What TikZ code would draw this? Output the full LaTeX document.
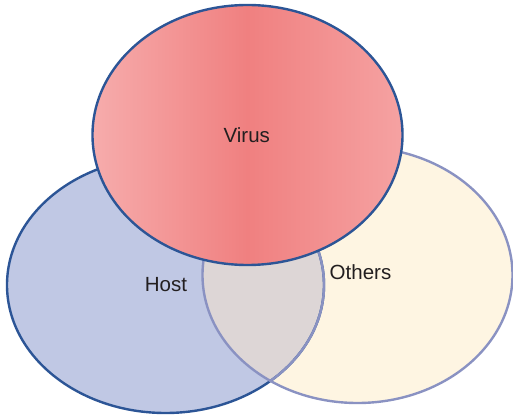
\documentclass[tikz,border=0pt]{standalone}
\usepackage{fontspec}
\setmainfont{Liberation Sans}
\definecolor{hostfill}{RGB}{192,200,228}
\definecolor{hostline}{RGB}{44,85,150}
\definecolor{othfill}{RGB}{254,245,226}
\definecolor{othline}{RGB}{138,146,194}
\definecolor{ovfill}{RGB}{221,214,214}
\definecolor{virL}{RGB}{246,172,172}
\definecolor{virM}{RGB}{240,128,128}
\definecolor{virR}{RGB}{245,162,162}
\definecolor{txt}{RGB}{35,31,32}
\begin{document}
\begin{tikzpicture}[x=1pt,y=-1pt,
  lbl/.style={anchor=base,text=txt,font=\fontsize{20.5}{24}\selectfont,inner sep=0pt},
  hostedge/.style={draw=hostline,line width=2.4pt},
  othedge/.style={draw=othline,line width=2.4pt}]
\useasboundingbox (0,0) rectangle (513,419);
\def\hostE{(165.5,285) ellipse [x radius=158.5,y radius=128]}
\def\othE{(357.5,275) ellipse [x radius=155,y radius=128]}
\def\virE{(247.5,135) ellipse [x radius=155,y radius=130]}
% Host and Others fills
\fill[hostfill] \hostE;
\fill[othfill] \othE;
\begin{scope}
  \clip \hostE;
  \fill[ovfill] \othE;
\end{scope}
% outlines
\path[hostedge] \hostE;
\begin{scope}
  \clip \othE;
  \path[othedge] \hostE;
\end{scope}
\path[othedge] \othE;
% Virus
\shade[left color=virL,right color=virR,middle color=virM] \virE;
\path[hostedge] \virE;
% labels
\node[lbl] (virus) at (246.8,142.7) {Virus};
\node[lbl] (host) at (166,291) {Host};
\node[lbl] (others) at (360.5,279.3) {Others};
\end{tikzpicture}
\end{document}
